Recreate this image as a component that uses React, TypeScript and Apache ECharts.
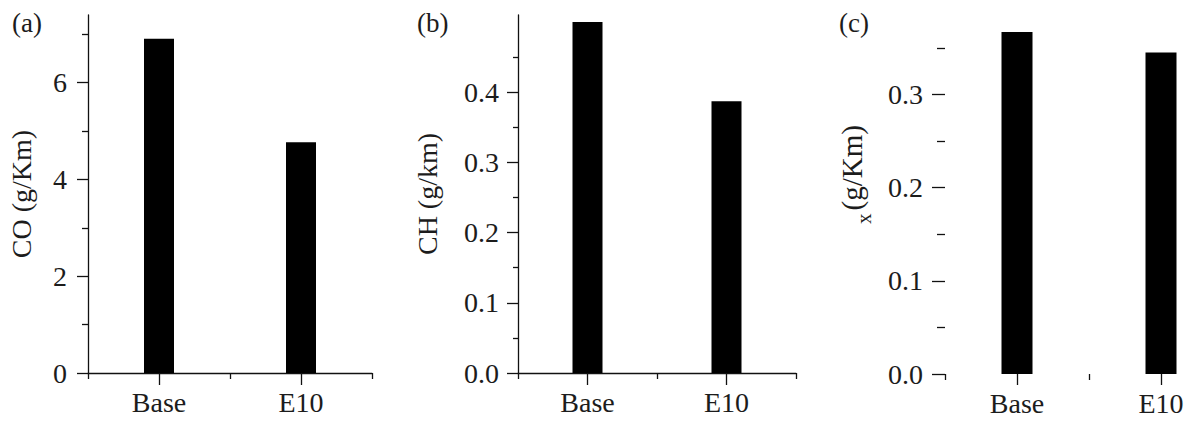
import React, { useEffect, useRef } from "react";
import * as echarts from "echarts";

// ---- data ----
const categories = ["Base", "E10"];
const coValues = [6.91, 4.77];
const chValues = [0.5, 0.387];
const noxValues = [0.367, 0.345];
const coTicks = [0, 2, 4, 6];
const chTicks = [0, 0.1, 0.2, 0.3, 0.4];
const noxTicks = [0, 0.1, 0.2, 0.3];
const panelLabels = ["(a)", "(b)", "(c)"];
const yNames = ["CO (g/Km)", "CH (g/km)"];

const FONT = "'Liberation Serif', 'Times New Roman', serif";
const TEXT = "#1c1c1c";
const LINE = "#111";
const FS = 28;

type Panel = {
  grid: { left: number; top: number; width: number; height: number };
  max: number;
  interval: number;
  ticks: number[];
  values: number[];
  fmt: (v: number) => string;
  name?: string;
  nameGap: number;
  labelMargin: number;
  tickLen: number;
  minorLen: number;
  showLine: boolean;
  barWidth: number;
  catTickLen: number;
};

const panels: Panel[] = [
  {
    grid: { left: 88, top: 15, width: 284, height: 358 },
    max: 7.4,
    interval: 2,
    ticks: coTicks,
    values: coValues,
    fmt: (v) => String(v),
    name: yNames[0],
    nameGap: 53,
    labelMargin: 21,
    tickLen: 11,
    minorLen: 6,
    showLine: true,
    barWidth: 30,
    catTickLen: 12,
  },
  {
    grid: { left: 518, top: 15, width: 278, height: 358 },
    max: 0.51,
    interval: 0.1,
    ticks: chTicks,
    values: chValues,
    fmt: (v) => v.toFixed(1),
    name: yNames[1],
    nameGap: 77,
    labelMargin: 19,
    tickLen: 11,
    minorLen: 5,
    showLine: true,
    barWidth: 30,
    catTickLen: 12,
  },
  {
    grid: { left: 945, top: 20, width: 288, height: 354 },
    max: 0.38,
    interval: 0.1,
    ticks: noxTicks,
    values: noxValues,
    fmt: (v) => v.toFixed(1),
    nameGap: 0,
    labelMargin: 22,
    tickLen: 13,
    minorLen: 8,
    showLine: false,
    barWidth: 31,
    catTickLen: 11,
  },
];

export default function App() {
  const ref = useRef<HTMLDivElement>(null);

  useEffect(() => {
    document.body.style.margin = "0";
    if (!ref.current) return;
    const chart = echarts.init(ref.current, undefined, { renderer: "svg" });

    const grids: any[] = [];
    const xAxes: any[] = [];
    const yAxes: any[] = [];
    const series: any[] = [];

    panels.forEach((p, i) => {
      grids.push({ ...p.grid, containLabel: false });
      // main category axis: labels + ticks at centers
      xAxes.push({
        type: "category",
        gridIndex: i,
        position: "bottom",
        offset: 0,
        data: categories,
        boundaryGap: true,
        axisLine: { show: p.showLine, lineStyle: { color: LINE, width: 1.3 } },
        axisTick: {
          show: true,
          alignWithLabel: true,
          interval: 0,
          length: p.catTickLen,
          lineStyle: { color: LINE, width: 1.3 },
        },
        axisLabel: {
          show: true,
          interval: 0,
          margin: 15,
          color: TEXT,
          fontFamily: FONT,
          fontSize: FS,
        },
        splitLine: { show: false },
      });
      // secondary category axis: short ticks at category boundaries
      xAxes.push({
        type: "category",
        gridIndex: i,
        position: "bottom",
        offset: 0,
        data: categories,
        boundaryGap: true,
        axisLine: { show: false },
        axisTick: {
          show: true,
          alignWithLabel: false,
          interval: 0,
          length: 6,
          lineStyle: { color: LINE, width: 1.3 },
        },
        axisLabel: { show: false },
        splitLine: { show: false },
      });
      yAxes.push({
        type: "value",
        gridIndex: i,
        min: 0,
        max: p.max,
        interval: p.interval,
        name: p.name ?? "",
        nameLocation: "middle",
        nameGap: p.nameGap,
        nameTextStyle: { color: TEXT, fontFamily: FONT, fontSize: FS },
        axisLine: { show: p.showLine, lineStyle: { color: LINE, width: 1.3 } },
        axisTick: {
          show: true,
          length: p.tickLen,
          customValues: p.ticks,
          lineStyle: { color: LINE, width: 1.3 },
        },
        minorTick: {
          show: true,
          splitNumber: 2,
          length: p.minorLen,
          lineStyle: { color: LINE, width: 1.3 },
        },
        axisLabel: {
          show: true,
          margin: p.labelMargin,
          customValues: p.ticks,
          formatter: (v: number) => p.fmt(v),
          color: TEXT,
          fontFamily: FONT,
          fontSize: FS,
        },
        splitLine: { show: false },
        minorSplitLine: { show: false },
      });
      series.push({
        type: "bar",
        xAxisIndex: i * 2,
        yAxisIndex: i,
        data: p.values,
        barWidth: p.barWidth,
        itemStyle: { color: "#000" },
        silent: true,
      });
    });

    const labelXs = [12, 417, 839];
    const graphics: any[] = panelLabels.map((t, i) => ({
      type: "text",
      x: labelXs[i],
      y: 23,
      style: {
        text: t,
        fontFamily: FONT,
        fontSize: 27,
        fill: TEXT,
        textAlign: "left",
        textVerticalAlign: "middle",
      },
    }));
    graphics.push({
      type: "text",
      x: 874,
      y: 224,
      rotation: Math.PI / 2,
      style: {
        text: "{s|x} {m|(g/Km)}",
        fontFamily: FONT,
        fill: TEXT,
        textAlign: "left",
        textVerticalAlign: "bottom",
        rich: {
          s: {
            fontFamily: FONT,
            fontSize: 21,
            fill: TEXT,
            verticalAlign: "bottom",
          },
          m: {
            fontFamily: FONT,
            fontSize: 29,
            fill: TEXT,
            verticalAlign: "bottom",
            padding: [0, 0, 8, 0],
          },
        },
      },
    });

    chart.setOption({
      animation: false,
      backgroundColor: "#fff",
      textStyle: { fontFamily: FONT },
      grid: grids,
      xAxis: xAxes,
      yAxis: yAxes,
      series,
      graphic: graphics,
    });

    return () => chart.dispose();
  }, []);

  return (
    <div style={{ width: 1186, height: 421, overflow: "hidden", position: "relative" }}>
      <div ref={ref} style={{ width: 1260, height: 421 }} />
    </div>
  );
}
